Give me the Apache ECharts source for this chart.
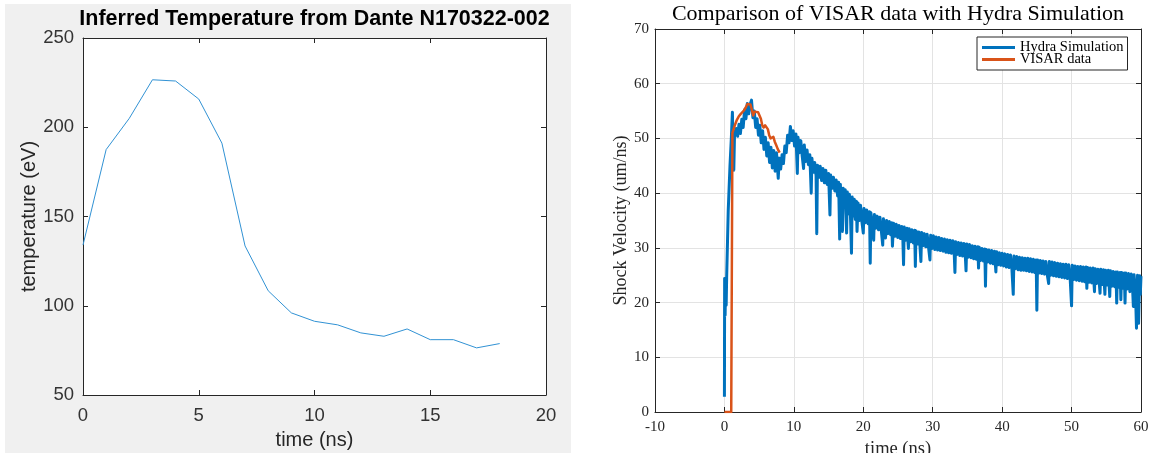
<!DOCTYPE html>
<html>
<head>
<meta charset="utf-8">
<script src="https://cdn.jsdelivr.net/npm/echarts@6/dist/echarts.min.js"></script>
<style>
  html, body { margin: 0; padding: 0; background: #ffffff; }
  #chart { width: 1153px; height: 453px; }
</style>
</head>
<body>
<div id="chart"></div>
<script>
// ---- Dante inferred temperature (time in ns, temperature in eV) ----
const tempTime = [0, 1, 2, 3, 4, 5, 6, 7, 8, 9, 10, 11, 12, 13, 14, 15, 16, 17, 18];
const tempValues = [134, 187.5, 205, 226.6, 225.9, 215.8, 191.1, 133.5, 108.4, 96, 91.3, 89.3, 84.8, 82.9, 87, 81, 81, 76.4, 78.8];

// ---- Hydra simulation shock velocity [time ns, um/ns] ----
const hydraSim = [
  [0.00, 2.8], [0.03, 24.4], [0.10, 17.7], [0.17, 24.0], [0.25, 19.5], [0.32, 24.5],
  [0.55, 36.9], [0.80, 45.0], [1.00, 50.2], [1.15, 54.8], [1.25, 47.5], [1.35, 44.2],
  [1.45, 50.5], [1.70, 51.8], [1.90, 50.4], [2.10, 52.6], [2.30, 50.9], [2.50, 53.5],
  [2.70, 52.0], [2.90, 55.2], [3.10, 53.6], [3.30, 56.4], [3.50, 54.5], [3.70, 56.2],
  [3.90, 57.0], [4.10, 53.8], [4.30, 55.0], [4.50, 52.0], [4.70, 53.6], [4.90, 50.6],
  [5.10, 52.4], [5.30, 49.2], [5.50, 51.4], [5.70, 48.0], [5.90, 50.2], [6.10, 46.8],
  [6.30, 49.2], [6.50, 45.6], [6.70, 48.4], [6.90, 44.6], [7.10, 47.8], [7.30, 44.0],
  [7.50, 47.4], [7.75, 42.7], [7.90, 46.4], [8.10, 44.4], [8.30, 47.0], [8.50, 45.4],
  [8.70, 48.6], [8.90, 47.4], [9.10, 50.6], [9.30, 49.2], [9.50, 52.2], [9.70, 49.6],
  [9.90, 51.4], [10.10, 48.6], [10.30, 50.8], [10.50, 43.6], [10.60, 50.2], [10.80, 47.4],
  [11.00, 49.6], [11.20, 46.8], [11.40, 44.5], [11.50, 48.8], [11.70, 45.8], [11.90, 47.9],
  [12.10, 45.2], [12.30, 47.0], [12.50, 40.0], [12.60, 46.4], [12.80, 43.8], [13.00, 45.6],
  [13.20, 43.2], [13.30, 32.6], [13.40, 45.1], [13.60, 42.9], [13.80, 44.9], [14.00, 42.3],
  [14.20, 44.5], [14.40, 41.9], [14.60, 44.2], [14.80, 41.6], [15.00, 43.6], [15.20, 36.0],
  [15.30, 43.3], [15.50, 40.9], [15.70, 42.9], [15.90, 40.4], [16.10, 42.4], [16.30, 39.5],
  [16.45, 42.0], [16.60, 31.6], [16.70, 41.6], [16.85, 37.2], [17.00, 33.0], [17.10, 40.9],
  [17.25, 37.4], [17.40, 40.6], [17.60, 32.7], [17.70, 40.2], [17.85, 36.2], [18.00, 39.8],
  [18.15, 36.0], [18.30, 29.0], [18.40, 39.3], [18.55, 35.8], [18.70, 38.9], [18.85, 35.2],
  [19.00, 38.5], [19.10, 33.0], [19.25, 38.2], [19.40, 35.0], [19.60, 37.8], [19.80, 34.8],
  [20.00, 32.7], [20.10, 37.2], [20.30, 34.6], [20.50, 36.9], [20.70, 34.4], [20.90, 36.6],
  [21.00, 27.2], [21.10, 36.4], [21.30, 34.0], [21.50, 31.4], [21.60, 36.1], [21.80, 33.6],
  [22.00, 35.8], [22.20, 33.3], [22.40, 35.6], [22.60, 33.1], [22.80, 30.5], [22.90, 35.3],
  [23.05, 32.9], [23.20, 31.8], [23.35, 35.0], [23.55, 32.6], [23.75, 34.8], [23.95, 32.4],
  [24.10, 34.6], [24.20, 30.3], [24.35, 34.5], [24.55, 32.1], [24.75, 34.3], [24.95, 31.9],
  [25.15, 34.1], [25.35, 31.7], [25.55, 33.9], [25.70, 31.6], [25.80, 26.9], [25.90, 33.8],
  [26.10, 31.4], [26.30, 33.6], [26.50, 29.9], [26.60, 33.5], [26.80, 31.1], [27.00, 33.3],
  [27.20, 30.9], [27.40, 33.2], [27.50, 26.6], [27.60, 33.1], [27.80, 30.7], [28.00, 32.9],
  [28.15, 30.6], [28.30, 27.5], [28.40, 32.8], [28.60, 30.4], [28.80, 32.6], [29.00, 30.2],
  [29.20, 32.5], [29.40, 30.1], [29.60, 27.8], [29.70, 32.3], [29.90, 29.9], [30.10, 32.2],
  [30.30, 29.7], [30.50, 32.0], [30.70, 29.6], [30.90, 31.9], [31.10, 29.5], [31.30, 31.7],
  [31.50, 29.4], [31.70, 31.6], [31.90, 29.2], [32.10, 31.5], [32.30, 29.1], [32.50, 31.4],
  [32.70, 29.0], [32.90, 31.3], [33.10, 28.9], [33.20, 25.5], [33.30, 31.1], [33.50, 28.8],
  [33.70, 31.0], [33.90, 28.6], [34.10, 30.9], [34.30, 28.5], [34.50, 30.8], [34.70, 28.4],
  [34.80, 25.8], [34.90, 30.7], [35.10, 28.3], [35.30, 30.6], [35.50, 28.2], [35.70, 30.4],
  [35.90, 28.0], [36.10, 30.3], [36.30, 27.9], [36.50, 30.2], [36.60, 26.3], [36.70, 30.1],
  [36.90, 27.7], [37.10, 29.9], [37.30, 27.6], [37.50, 29.8], [37.60, 23.0], [37.70, 29.7],
  [37.90, 27.4], [38.10, 29.6], [38.30, 27.2], [38.50, 29.5], [38.70, 27.1], [38.90, 29.4],
  [39.10, 25.6], [39.20, 29.3], [39.40, 26.9], [39.60, 29.1], [39.80, 26.8], [40.00, 29.0],
  [40.20, 26.7], [40.40, 28.9], [40.60, 26.5], [40.80, 28.8], [41.00, 26.4], [41.20, 28.7],
  [41.40, 26.3], [41.60, 21.5], [41.70, 28.5], [41.90, 26.2], [42.10, 28.4], [42.30, 26.0],
  [42.50, 28.3], [42.70, 25.9], [42.90, 28.2], [43.10, 25.9], [43.30, 28.1], [43.50, 25.8],
  [43.70, 28.1], [43.90, 25.7], [44.10, 28.0], [44.30, 25.6], [44.50, 27.9], [44.70, 25.5],
  [44.90, 27.8], [45.00, 18.6], [45.10, 27.8], [45.30, 25.4], [45.50, 27.7], [45.70, 25.3],
  [45.90, 27.6], [46.10, 25.2], [46.30, 27.5], [46.50, 25.1], [46.70, 23.5], [46.80, 27.5],
  [47.00, 25.0], [47.20, 27.4], [47.40, 24.9], [47.60, 27.3], [47.80, 24.8], [48.00, 27.2],
  [48.20, 24.7], [48.40, 27.1], [48.60, 24.6], [48.80, 27.0], [49.00, 24.5], [49.20, 27.0],
  [49.40, 24.4], [49.60, 26.9], [49.80, 24.3], [50.00, 19.4], [50.10, 26.8], [50.30, 24.2],
  [50.50, 26.7], [50.70, 24.1], [50.90, 26.6], [51.10, 24.0], [51.30, 26.6], [51.50, 23.9],
  [51.70, 26.5], [51.90, 23.8], [52.10, 26.5], [52.20, 22.6], [52.30, 26.4], [52.50, 23.7],
  [52.70, 26.3], [52.90, 23.6], [53.10, 26.3], [53.30, 22.0], [53.40, 26.2], [53.60, 23.5],
  [53.80, 26.1], [54.00, 23.4], [54.10, 21.7], [54.20, 26.1], [54.40, 23.3], [54.60, 26.0],
  [54.80, 21.5], [54.90, 25.9], [55.10, 23.2], [55.30, 25.9], [55.50, 21.1], [55.60, 25.8],
  [55.80, 23.0], [56.00, 25.7], [56.20, 22.9], [56.40, 25.6], [56.50, 19.9], [56.60, 25.6],
  [56.80, 22.8], [57.00, 25.5], [57.10, 20.5], [57.20, 25.5], [57.40, 22.6], [57.60, 25.4],
  [57.70, 19.9], [57.80, 25.4], [58.00, 22.5], [58.20, 25.3], [58.40, 22.0], [58.60, 25.2],
  [58.80, 22.2], [58.90, 19.3], [59.00, 25.1], [59.20, 22.1], [59.35, 15.3], [59.50, 25.0],
  [59.65, 16.2], [59.80, 24.9], [59.90, 21.5], [60.00, 24.8]
];

// ---- VISAR measured shock velocity [time ns, um/ns] ----
const visarData = [
  [0.00, 0.0], [0.98, 0.0], [1.15, 51.0], [1.30, 51.6], [1.55, 52.6], [1.80, 53.4],
  [2.05, 54.0], [2.30, 54.4], [2.55, 54.6], [2.80, 55.1], [3.05, 55.6], [3.30, 56.3],
  [3.55, 56.5], [3.75, 56.2], [3.95, 55.2], [4.15, 54.2], [4.35, 54.9], [4.60, 55.0],
  [4.85, 54.8], [5.05, 54.2], [5.25, 53.6], [5.45, 52.4], [5.65, 52.0], [5.85, 52.4],
  [6.05, 52.5], [6.25, 51.7], [6.45, 50.6], [6.65, 50.0], [6.85, 50.2], [7.05, 50.3],
  [7.25, 49.4], [7.45, 48.8], [7.70, 48.0], [7.95, 47.4]
];

// ---- axis ranges ----
const tempXRange = { min: 0, max: 20, interval: 5 };
const tempYRange = { min: 50, max: 250, interval: 50 };
const shockXRange = { min: -10, max: 60, interval: 10 };
const shockYRange = { min: 0, max: 70, interval: 10 };

const SANS = '"Liberation Sans", Arial, Helvetica, sans-serif';
const SERIF = '"Liberation Serif", "Times New Roman", serif';
const BOX = '#262626';

function frameAxis(range, grid, position, opts) {
  // a boxed axis with inward ticks on every side
  return Object.assign({
    type: 'value',
    gridIndex: grid,
    position: position,
    min: range.min,
    max: range.max,
    interval: range.interval,
    axisLine: { show: true, onZero: false, lineStyle: { color: BOX, width: 1 } },
    axisTick: { show: true, inside: true, length: 5, lineStyle: { color: BOX, width: 1 } },
    axisLabel: { show: false },
    splitLine: { show: false }
  }, opts || {});
}

const chart = echarts.init(document.getElementById('chart'), null, { renderer: 'canvas' });

chart.setOption({
  animation: false,
  backgroundColor: '#ffffff',
  graphic: [
    { type: 'rect', z: -5, shape: { x: 5, y: 4, width: 566, height: 449 }, style: { fill: '#f0f0f0' } },
    { type: 'text', z: 10, x: 314.5, y: 19,
      style: { text: 'Inferred Temperature from Dante N170322-002', font: 'bold 21.5px ' + SANS,
               fill: '#000000', align: 'center', verticalAlign: 'middle', textAlign: 'center', textVerticalAlign: 'middle' } },
    { type: 'text', z: 10, x: 898, y: 14,
      style: { text: 'Comparison of VISAR data with Hydra Simulation', font: '22px ' + SERIF,
               fill: '#000000', align: 'center', verticalAlign: 'middle', textAlign: 'center', textVerticalAlign: 'middle' } },
    { type: 'rect', z: 100, shape: { x: 1148, y: 0, width: 5, height: 453 }, style: { fill: '#ffffff' } }
  ],
  grid: [
    { left: 83, top: 38, width: 463, height: 357, outerBoundsMode: 'none', containLabel: false,
      show: true, backgroundColor: '#ffffff', borderWidth: 0 },
    { left: 655, top: 29, width: 486, height: 383, outerBoundsMode: 'none', containLabel: false,
      show: true, backgroundColor: '#ffffff', borderWidth: 0 }
  ],
  legend: {
    orient: 'vertical',
    left: 977,
    top: 37,
    data: ['Hydra Simulation', 'VISAR data'],
    icon: 'rect',
    itemWidth: 33,
    itemHeight: 3,
    itemGap: -3,
    padding: [3, 4, 3, 5],
    borderColor: BOX,
    borderWidth: 1,
    backgroundColor: '#ffffff',
    textStyle: { fontFamily: SERIF, fontSize: 14.5, color: '#000000' }
  },
  xAxis: [
    frameAxis(tempXRange, 0, 'bottom', {
      name: 'time (ns)', nameLocation: 'middle', nameGap: 35,
      nameTextStyle: { fontFamily: SANS, fontSize: 20, color: '#262626' },
      axisLabel: { show: true, fontFamily: SANS, fontSize: 18.5, color: '#333333', margin: 11 }
    }),
    frameAxis(tempXRange, 0, 'top'),
    frameAxis(shockXRange, 1, 'bottom', {
      name: 'time (ns)', nameLocation: 'middle', nameGap: 15,
      nameTextStyle: { fontFamily: SERIF, fontSize: 18.5, color: '#262626' },
      axisLabel: { show: true, fontFamily: SERIF, fontSize: 15, color: '#262626', margin: 8 },
      splitLine: { show: true, lineStyle: { color: '#e3e3e3', width: 1 } }
    }),
    frameAxis(shockXRange, 1, 'top')
  ],
  yAxis: [
    frameAxis(tempYRange, 0, 'left', {
      name: 'temperature (eV)', nameLocation: 'middle', nameGap: 44, nameRotate: 90,
      nameTextStyle: { fontFamily: SANS, fontSize: 20, color: '#262626' },
      axisLabel: { show: true, fontFamily: SANS, fontSize: 18.5, color: '#333333', margin: 9 }
    }),
    frameAxis(tempYRange, 0, 'right'),
    frameAxis(shockYRange, 1, 'left', {
      name: 'Shock Velocity (um/ns)', nameLocation: 'middle', nameGap: 25, nameRotate: 90,
      nameTextStyle: { fontFamily: SERIF, fontSize: 18, color: '#262626' },
      axisLabel: { show: true, fontFamily: SERIF, fontSize: 15, color: '#262626', margin: 6 },
      splitLine: { show: true, lineStyle: { color: '#e3e3e3', width: 1 } }
    }),
    frameAxis(shockYRange, 1, 'right')
  ],
  series: [
    {
      name: 'Dante temperature',
      type: 'line',
      xAxisIndex: 0,
      yAxisIndex: 0,
      data: tempTime.map((t, i) => [t, tempValues[i]]),
      symbol: 'none',
      lineStyle: { color: '#3192d4', width: 1 },
      itemStyle: { color: '#3192d4' }
    },
    {
      name: 'Hydra Simulation',
      type: 'line',
      xAxisIndex: 2,
      yAxisIndex: 2,
      data: hydraSim,
      symbol: 'none',
      lineStyle: { color: '#0072BD', width: 3, join: 'round' },
      itemStyle: { color: '#0072BD' }
    },
    {
      name: 'VISAR data',
      type: 'line',
      xAxisIndex: 2,
      yAxisIndex: 2,
      data: visarData,
      symbol: 'none',
      lineStyle: { color: '#D95319', width: 2.5, join: 'round' },
      itemStyle: { color: '#D95319' }
    }
  ]
});
</script>
</body>
</html>
